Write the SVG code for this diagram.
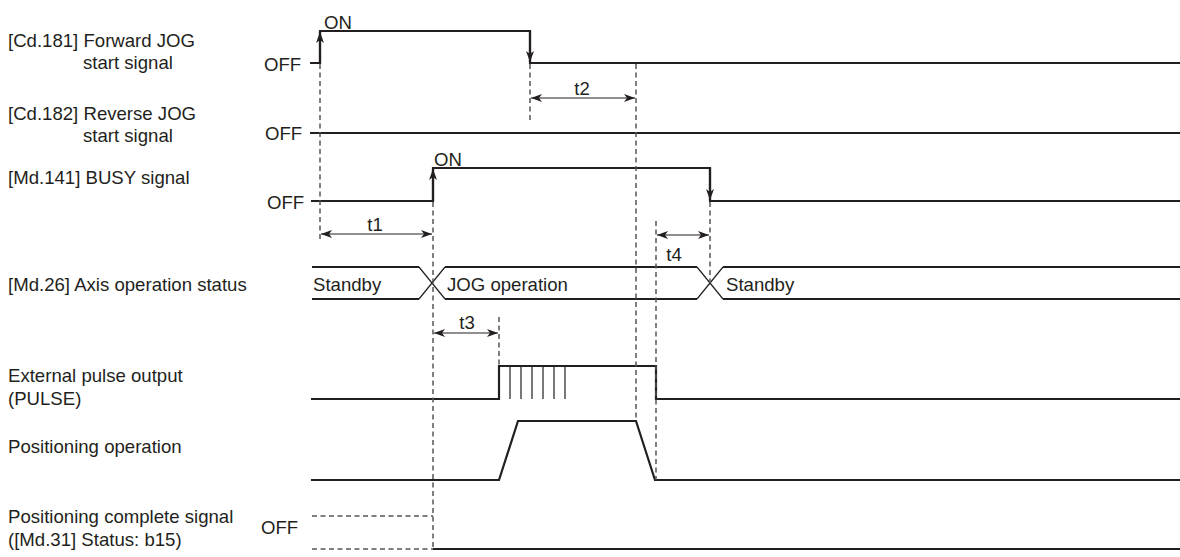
<svg xmlns="http://www.w3.org/2000/svg" width="1180" height="557" viewBox="0 0 1180 557">
<style>
text{font-family:"Liberation Sans",Arial,sans-serif;font-size:18.6px;fill:#231f20}
.sig{fill:none;stroke:#231f20;stroke-width:2.2}
.thin{fill:none;stroke:#231f20;stroke-width:1.2}
.dash{fill:none;stroke:#555;stroke-width:1.5;stroke-dasharray:5,3.5}
.dim{fill:none;stroke:#231f20;stroke-width:1.2}
.mid{text-anchor:middle}
</style>
<defs>
<marker id="ah" viewBox="0 0 11 8" refX="11" refY="4" markerWidth="11" markerHeight="8" markerUnits="userSpaceOnUse" orient="auto-start-reverse">
<path d="M0,0 L11,4 L0,8 L3,4 z" fill="#231f20"/>
</marker>
</defs>
<rect width="1180" height="557" fill="#fff"/>

<g id="fwd">
<text x="8" y="47">[Cd.181] Forward JOG</text>
<text x="83" y="69">start signal</text>
<text x="264" y="71">OFF</text>
<text x="324" y="29">ON</text>
<path class="sig" d="M310,63 H320 V31 H530 V63 H1180"/>
<path class="sig" d="M320,63 V32" marker-end="url(#ah)"/>
<path class="sig" d="M530,31 V62" marker-end="url(#ah)"/>
</g>

<g id="rev">
<text x="8" y="120">[Cd.182] Reverse JOG</text>
<text x="83" y="142">start signal</text>
<text x="265" y="140">OFF</text>
<path class="sig" d="M310,133 H1180"/>
</g>

<g id="busy">
<text x="8" y="184">[Md.141] BUSY signal</text>
<text x="267" y="209">OFF</text>
<text x="434" y="166">ON</text>
<path class="sig" d="M311,201 H433 V168 H710 V201 H1180"/>
<path class="sig" d="M433,201 V169" marker-end="url(#ah)"/>
<path class="sig" d="M710,168 V200" marker-end="url(#ah)"/>
</g>

<g id="axis">
<text x="8" y="291">[Md.26] Axis operation status</text>
<path class="sig" d="M312,267 H419 M312,299 H419 M445,267 H697 M445,299 H697 M723,267 H1180 M723,299 H1180"/>
<path class="thin" d="M419,267 L445,299 M419,299 L445,267 M697,267 L723,299 M697,299 L723,267"/>
<text x="313" y="291">Standby</text>
<text x="447" y="291">JOG operation</text>
<text x="726" y="291">Standby</text>
</g>

<g id="pulse">
<text x="8" y="382">External pulse output</text>
<text x="8" y="405">(PULSE)</text>
<path class="sig" d="M311,399 H499 V366 H656 V399 H1180"/>
<path class="thin" d="M510,366 V399 M521,366 V399 M532,366 V399 M543,366 V399 M554,366 V399 M565,366 V399"/>
</g>

<g id="posop">
<text x="8" y="453">Positioning operation</text>
<path class="sig" d="M311,480 H499 L518,421 H636 L655,480 H1180"/>
</g>

<g id="poscomp">
<text x="8" y="523">Positioning complete signal</text>
<text x="8" y="546">([Md.31] Status: b15)</text>
<text x="261" y="534">OFF</text>
<path class="dash" d="M312,516 H433 M312,549 H433"/>
<path class="sig" d="M433,549 H1180"/>
</g>

<g id="connectors">
<path class="dash" d="M320,64 V240"/>
<path class="dash" d="M530,64 V122"/>
<path class="dash" d="M636,64 V421"/>
<path class="dash" d="M433,202 V549"/>
<path class="dash" d="M499,317 V366"/>
<path class="dash" d="M656,221 V480"/>
<path class="dash" d="M710,202 V283"/>
<path class="dim" d="M321,234 H432" marker-start="url(#ah)" marker-end="url(#ah)"/>
<path class="dim" d="M531,98 H635" marker-start="url(#ah)" marker-end="url(#ah)"/>
<path class="dim" d="M434,333 H498" marker-start="url(#ah)" marker-end="url(#ah)"/>
<path class="dim" d="M657,235 H709" marker-start="url(#ah)" marker-end="url(#ah)"/>
<text class="mid" x="375" y="231">t1</text>
<text class="mid" x="582" y="95">t2</text>
<text class="mid" x="467" y="329">t3</text>
<text class="mid" x="674" y="261">t4</text>
</g>
</svg>
